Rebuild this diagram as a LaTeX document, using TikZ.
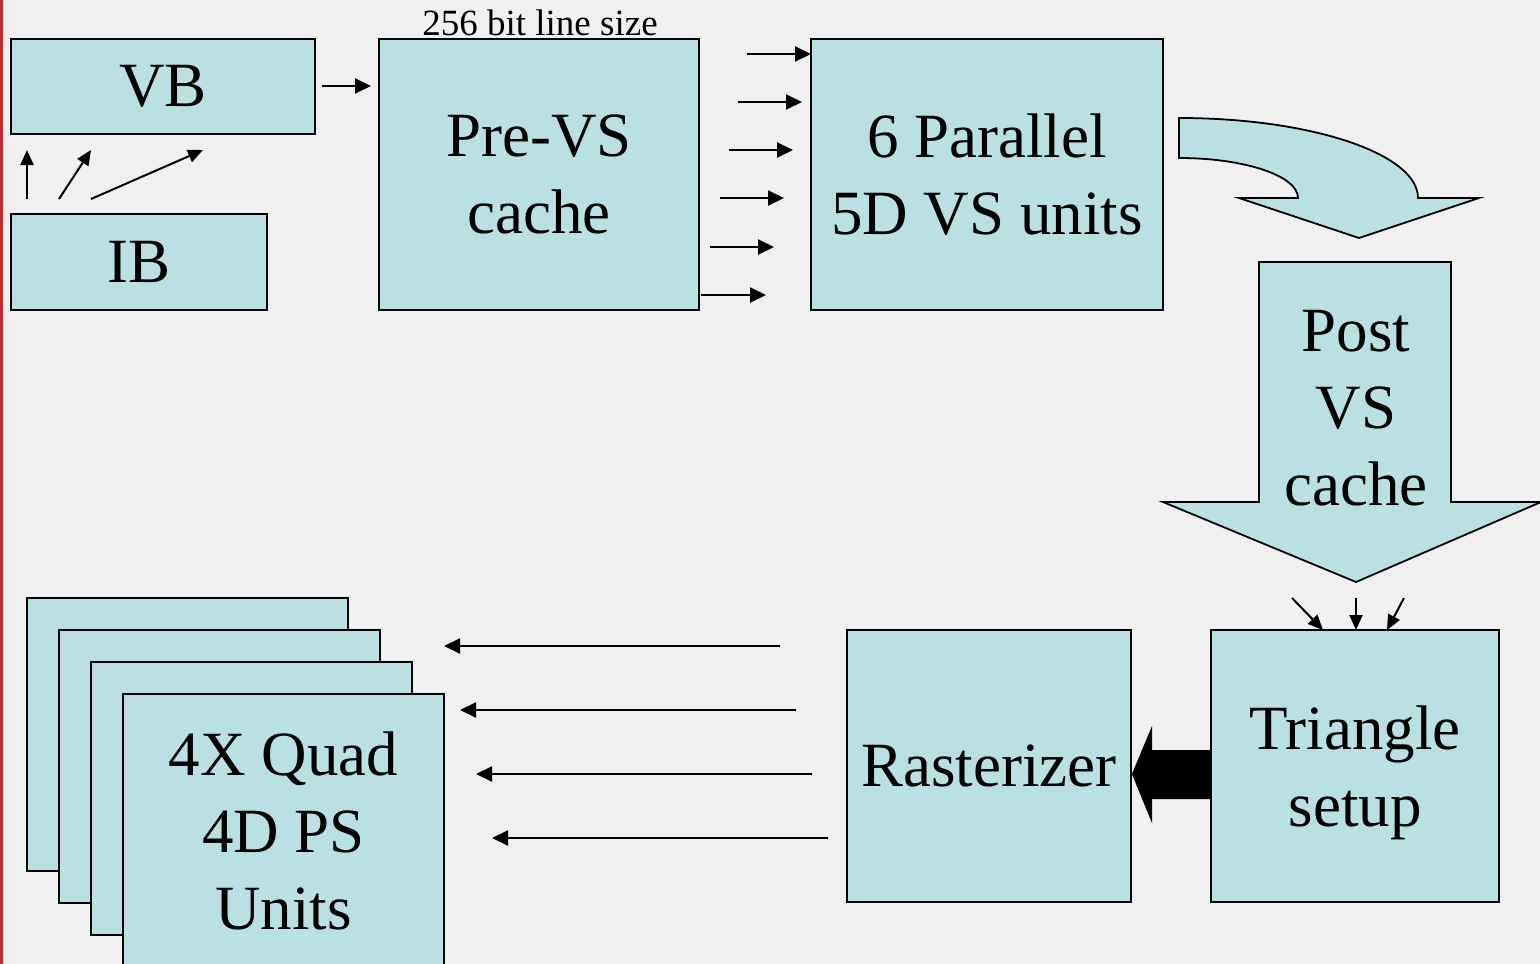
\documentclass[tikz,border=0pt]{standalone}
\usepackage{fontspec}
\setmainfont{Liberation Serif}
\usetikzlibrary{arrows.meta}
\definecolor{boxfill}{HTML}{BBE0E3}
\definecolor{paper}{HTML}{F0F0F0}
\definecolor{edgered}{HTML}{C62828}
\newcommand\bigtext{\fontsize{63}{77}\selectfont}
\newcommand\smalltext{\fontsize{37}{44}\selectfont}

\begin{document}
\begin{tikzpicture}[x=1pt,y=1pt,
  box/.style={draw=black, line width=1.8pt, fill=boxfill, inner sep=0pt,
              align=center, font=\bigtext},
  shapeline/.style={draw=black, line width=1.8pt, fill=boxfill},
  link/.style={line width=2pt, -{Triangle[length=16pt,width=15pt]}},
  thinlink/.style={line width=2pt, -{Triangle[length=15pt,width=13pt]}}]

\useasboundingbox (0,0) rectangle (1540,-964);
\clip (0,0) rectangle (1540,-964);
\fill[paper] (0,0) rectangle (1540,-964);
\fill[edgered] (0,0) rectangle (3,-964);

% ---- vertex fetch stage ----
\node[box, minimum width=304pt, minimum height=95pt] (vb) at (163,-86.5) {VB};
\node[box, minimum width=256pt, minimum height=96pt] (ib) at (139,-262) {IB};
\node[box, minimum width=320pt, minimum height=271pt] (pre) at (539,-174.5) {Pre-VS\\cache};
\node[box, minimum width=352pt, minimum height=271pt] (par) at (987,-174.5) {6 Parallel\\5D VS units};
\node[font=\smalltext, anchor=base] (linesize) at (540,-35) {256 bit line size};

% index buffer feeding the vertex buffer
\coordinate (ia1) at (27,-199);  \coordinate (ib1) at (27,-150);
\coordinate (ia2) at (59,-199);  \coordinate (ib2) at (91,-150);
\coordinate (ia3) at (91,-199);  \coordinate (ib3) at (203,-150);
\foreach \i in {1,2,3} \draw[thinlink] (ia\i) -- (ib\i);

% vertex buffer into the pre-VS cache
\coordinate (vbout) at (322,-86);
\coordinate (prein) at (371,-86);
\draw[link] (vbout) -- (prein);

% six lanes into the vertex shader units
\foreach \i/\xa/\xb/\yy in {1/747/811/54, 2/738/802/102, 3/729/793/150,
                            4/720/784/198, 5/710/774/247, 6/701/766/295} {
  \coordinate (ls\i) at (\xa,-\yy);
  \coordinate (le\i) at (\xb,-\yy);
  \draw[link] (ls\i) -- (le\i);
}

% curved block arrow down to the post-VS cache
\path[shapeline] (1179,-118)
  arc[start angle=90, end angle=0, x radius=239, y radius=80]
  -- (1479,-198) -- (1359,-238) -- (1239,-198) -- (1298,-198)
  arc[start angle=0, end angle=90, x radius=119, y radius=40] -- cycle;

% post-VS cache as a downward block arrow
\path[shapeline] (1259,-262) -- (1451,-262) -- (1451,-502) -- (1541,-502)
  -- (1356,-582) -- (1163,-502) -- (1259,-502) -- cycle;
\node[font=\bigtext, align=center, inner sep=0pt] (postvs) at (1356,-408) {Post\\VS\\cache};

% ---- setup and raster stage ----
\node[box, minimum width=288pt, minimum height=272pt, text depth=0pt] (tri) at (1355,-766) {Triangle\\setup};
\node[box, minimum width=284pt, minimum height=272pt] (ras) at (989,-766) {Rasterizer};

\coordinate (ta1) at (1292,-598); \coordinate (tb1) at (1323,-630);
\coordinate (ta2) at (1356,-598); \coordinate (tb2) at (1356,-630);
\coordinate (ta3) at (1404,-598); \coordinate (tb3) at (1387,-630);
\foreach \i in {1,2,3} \draw[thinlink] (ta\i) -- (tb\i);

% heavy arrow from triangle setup to the rasterizer
\fill[black] (tri.west |- 0,-750) -- (1152,-750) -- (1152,-726) -- (ras.east |- 0,-774)
  -- (1152,-823) -- (1152,-799) -- (tri.west |- 0,-799) -- cycle;

% ---- pixel shader stack ----
\node[box, minimum width=321pt, minimum height=273pt] (ps1) at (187.5,-734.5) {};
\node[box, minimum width=321pt, minimum height=273pt] (ps2) at (219.5,-766.5) {};
\node[box, minimum width=321pt, minimum height=273pt] (ps3) at (251.5,-798.5) {};
\node[box, minimum width=321pt, minimum height=273pt] (ps4) at (283.5,-830.5) {4X Quad\\4D PS\\Units};

\foreach \i/\xa/\xb/\yy in {1/780/444/646, 2/796/460/710, 3/812/476/774, 4/828/492/838} {
  \coordinate (rs\i) at (\xa,-\yy);
  \coordinate (re\i) at (\xb,-\yy);
  \draw[link] (rs\i) -- (re\i);
}
\end{tikzpicture}
\end{document}
